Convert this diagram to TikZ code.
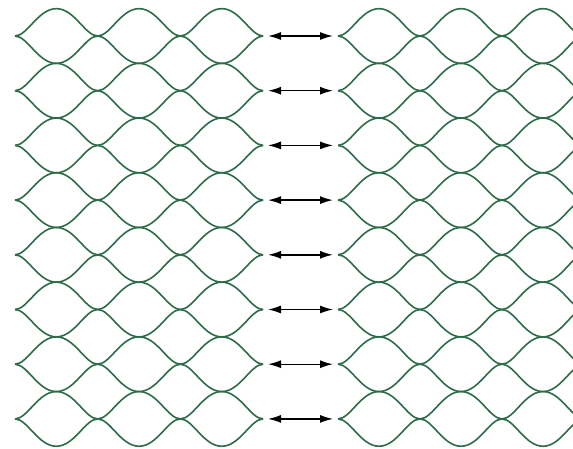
\documentclass[tikz,border=0pt]{standalone}
\usetikzlibrary{arrows.meta}
\definecolor{netgreen}{RGB}{45,108,72}
\begin{document}
\begin{tikzpicture}[x=1pt,y=-1pt,
  wire/.style={draw=netgreen, line width=1.6pt},
  link/.style={{Latex[length=13pt,width=8pt]}-{Latex[length=13pt,width=8pt]}, line width=1.4pt, black, shorten <=5pt, shorten >=5pt}]
\useasboundingbox (0,0) rectangle (573,448);
\begin{scope}
\clip (0,0) rectangle (573,448);
\foreach \j in {0,...,7}{
  \pgfmathsetmacro\yc{36+54.7*\j}
  \foreach \s in {-1,1}{
    \pgfmathsetmacro\ye{\yc+\s*27.35}
    \foreach \xs/\P in {15/82.7,338/82}{
      \foreach \i in {0,1,2}{
        \pgfmathsetmacro\xa{\xs+\P*\i}
        \pgfmathsetmacro\xb{\xa+\P/2}
        \pgfmathsetmacro\xc{\xa+\P}
        \pgfmathsetmacro\ka{\P*0.15}
        \pgfmathsetmacro\kb{\P*0.22}
        \draw[wire] (\xa,\yc) .. controls (\xa+\ka,\yc) and (\xb-\kb,\ye) .. (\xb,\ye)
                              .. controls (\xb+\kb,\ye) and (\xc-\ka,\yc) .. (\xc,\yc);
      }
    }
  }
}
\end{scope}
\foreach \j in {0,...,7}{
  \pgfmathsetmacro\yc{36+54.7*\j}
  \coordinate (L\j) at (263,\yc);
  \coordinate (R\j) at (338,\yc);
  \draw[link] (L\j) -- (R\j);
}
\end{tikzpicture}
\end{document}
